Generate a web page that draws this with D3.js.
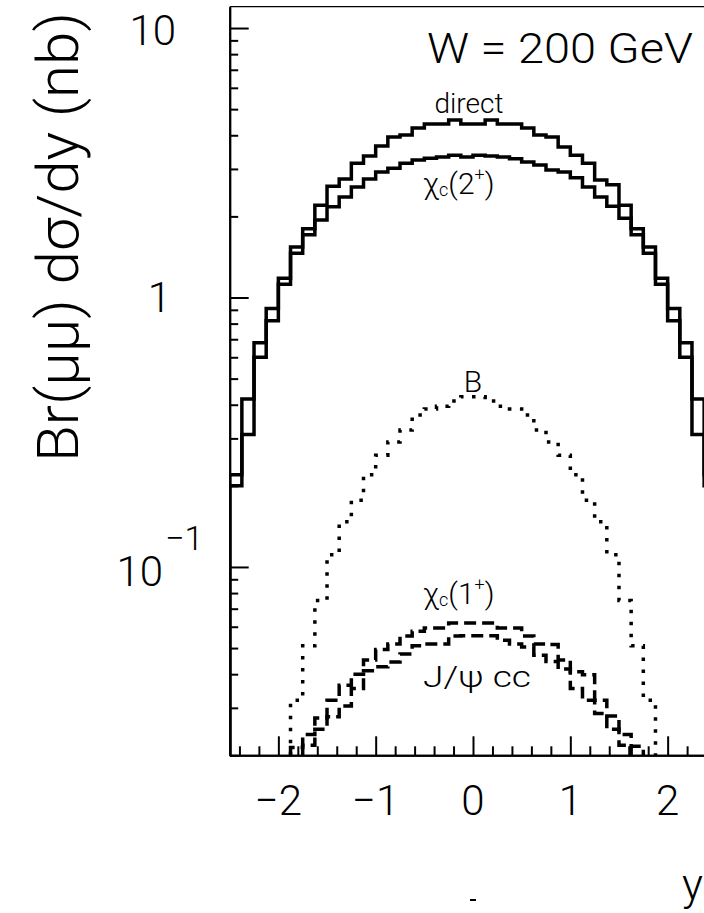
<!DOCTYPE html>
<html>
<head>
<meta charset="utf-8">
<script src="https://cdn.jsdelivr.net/npm/d3@7"></script>
<style>
    body { margin: 0; background: #fff; }
    svg text { font-family: "Roboto Light", "Lato Light", "Open Sans Light", "DejaVu Sans ExtraLight", "Lato Hairline", Roboto, sans-serif; font-weight: 300; fill: #000; }
</style>
</head>
<body>
<div id="chart"></div>
<script>
// rapidity binning: 40 bins of 0.125 from -2.5 to 2.5
const binStart = -2.5, binWidth = 0.125;

// Br(mumu) dsigma/dy in nb, one value per bin (0 = below the plot)
const direct = [0.22, 0.42, 0.68, 0.91, 1.18, 1.54, 1.80, 2.20, 2.59, 2.75, 3.15, 3.35, 3.65, 3.94, 4.01, 4.26, 4.40, 4.40, 4.56, 4.40,
                4.40, 4.56, 4.40, 4.40, 4.26, 4.01, 3.94, 3.62, 3.37, 3.15, 2.73, 2.62, 2.20, 1.80, 1.54, 1.18, 0.91, 0.68, 0.42, 0.22];
const chic2 = [0.20, 0.31, 0.60, 0.82, 1.12, 1.46, 1.71, 1.94, 2.17, 2.36, 2.57, 2.75, 2.92, 3.02, 3.15, 3.24, 3.29, 3.32, 3.37, 3.32,
               3.37, 3.35, 3.32, 3.27, 3.18, 3.10, 2.97, 2.92, 2.78, 2.57, 2.36, 2.18, 1.97, 1.71, 1.46, 1.12, 0.82, 0.60, 0.31, 0.20];
const bDecay = [0, 0, 0, 0, 0, 0.032, 0.051, 0.075, 0.111, 0.147, 0.177, 0.22, 0.26, 0.291, 0.322, 0.366, 0.386, 0.395, 0.413, 0.428,
                0.428, 0.413, 0.395, 0.386, 0.366, 0.322, 0.291, 0.26, 0.22, 0.177, 0.147, 0.111, 0.075, 0.051, 0.032, 0, 0, 0, 0, 0];
const chic1 = [0, 0, 0, 0, 0, 0.0214, 0.0239, 0.0275, 0.032, 0.0364, 0.040, 0.0452, 0.0494, 0.0518, 0.0554, 0.0577, 0.0594, 0.0594, 0.062, 0.062,
               0.062, 0.062, 0.0594, 0.0594, 0.0554, 0.0518, 0.0515, 0.0452, 0.0408, 0.0398, 0.032, 0.028, 0.0239, 0.0216, 0, 0, 0, 0, 0, 0];
const psiCC = [0, 0, 0, 0, 0, 0, 0.0218, 0.025, 0.0278, 0.0305, 0.0354, 0.0412, 0.0426, 0.0444, 0.0475, 0.051, 0.0518, 0.0518, 0.0554, 0.0555,
               0.0555, 0.0555, 0.0535, 0.0518, 0.0505, 0.047, 0.0446, 0.0418, 0.0354, 0.032, 0.0286, 0.025, 0.0218, 0, 0, 0, 0, 0, 0, 0];

const xTicks = [-2, -1, 0, 1, 2];
const xTickLabels = ["\u22122", "\u22121", "0", "1", "2"];
const xMinor = [-2.4, -2.2, -1.8, -1.6, -1.4, -1.2, -0.8, -0.6, -0.4, -0.2, 0.2, 0.4, 0.6, 0.8, 1.2, 1.4, 1.6, 1.8, 2.2, 2.4];
const yTicks = [0.1, 1, 10];
const yMinor = [0.02, 0.03, 0.04, 0.05, 0.06, 0.07, 0.08, 0.09, 0.2, 0.3, 0.4, 0.5, 0.6, 0.7, 0.8, 0.9, 2, 3, 4, 5, 6, 7, 8, 9];

const width = 704, height = 913;
const frame = {left: 229.7, right: 716.3, top: 6.7, bottom: 755.3};

const svg = d3.select("#chart")
    .append("svg")
    .attr("width", width)
    .attr("height", height);

const x = d3.scaleLinear().domain([-2.5, 2.5]).range([frame.left, frame.right]);
const y = d3.scaleLog().domain([0.02, 12]).range([frame.bottom, frame.top]);
const floor = y.domain()[0];

svg.append("clipPath").attr("id", "clip")
    .append("rect")
    .attr("x", frame.left).attr("y", frame.top)
    .attr("width", frame.right - frame.left)
    .attr("height", frame.bottom - frame.top);

// step outline of a histogram, dropping to the floor at both ends
const histPoints = (vals) => {
    const first = vals.findIndex(v => v > 0);
    const last = vals.length - 1 - vals.slice().reverse().findIndex(v => v > 0);
    const edge = i => binStart + i * binWidth;
    let pts = [[edge(first), floor]];
    for (let i = first; i <= last; i++) {
        pts.push([edge(i), vals[i]]);
        pts.push([edge(i + 1), vals[i]]);
    }
    pts.push([edge(last + 1), floor]);
    return pts;
};

const line = d3.line().x(d => x(d[0])).y(d => y(Math.max(d[1], floor)));

const series = [
    {vals: direct, dash: null},
    {vals: chic2, dash: null},
    {vals: bDecay, dash: "3.5,8.5"},
    {vals: chic1, dash: "12,6"},
    {vals: psiCC, dash: "12,6"}
];

const plot = svg.append("g").attr("clip-path", "url(#clip)");
plot.selectAll("path.hist")
    .data(series)
    .enter()
    .append("path")
    .attr("class", "hist")
    .attr("d", d => line(histPoints(d.vals)))
    .attr("fill", "none")
    .attr("stroke", "#000")
    .attr("stroke-width", 3.5)
    .attr("stroke-linejoin", "miter")
    .attr("stroke-dasharray", d => d.dash);

// frame
svg.append("line")
    .attr("x1", frame.left).attr("x2", frame.right)
    .attr("y1", frame.top).attr("y2", frame.top)
    .attr("stroke", "#000").attr("stroke-width", 1.3);

// axes with inward ticks
const styleAxis = g => {
    g.selectAll("path.domain").attr("stroke-width", 2);
    g.selectAll(".tick line").attr("stroke-width", 2);
    g.selectAll(".tick text").remove();
};
svg.append("g").attr("transform", `translate(${frame.left},0)`)
    .call(d3.axisRight(y).tickValues(yMinor).tickSize(8.5).tickSizeOuter(0))
    .call(styleAxis);
svg.append("g").attr("transform", `translate(${frame.left},0)`)
    .call(d3.axisRight(y).tickValues(yTicks).tickSize(19).tickSizeOuter(0))
    .call(styleAxis);
svg.append("g").attr("transform", `translate(0,${frame.bottom})`)
    .call(d3.axisTop(x).tickValues(xMinor).tickSize(9).tickSizeOuter(0))
    .call(styleAxis);
svg.append("g").attr("transform", `translate(0,${frame.bottom})`)
    .call(d3.axisTop(x).tickValues(xTicks).tickSize(19).tickSizeOuter(0))
    .call(styleAxis);

// x tick labels
svg.selectAll("text.xlab")
    .data(xTicks)
    .enter()
    .append("text")
    .attr("class", "xlab")
    .attr("x", d => x(d))
    .attr("y", frame.bottom + 60)
    .attr("text-anchor", "middle")
    .attr("font-size", 42)
    .text((d, i) => xTickLabels[i]);

// y tick labels
svg.append("text").attr("x", 176).attr("y", y(10) + 17)
    .attr("text-anchor", "end").attr("font-size", 42).text("10");
svg.append("text").attr("x", 171).attr("y", y(1) + 15)
    .attr("text-anchor", "end").attr("font-size", 42).text("1");
svg.append("text").attr("x", 163).attr("y", y(0.1) + 19)
    .attr("text-anchor", "end").attr("font-size", 42).text("10");
svg.append("text").attr("x", 165).attr("y", y(0.1) - 17)
    .attr("font-size", 34).text("\u22121");

// axis titles
svg.append("text")
    .attr("transform", "translate(78,237) rotate(-90)")
    .attr("text-anchor", "middle")
    .attr("font-size", 58)
    .attr("textLength", 450)
    .attr("lengthAdjust", "spacingAndGlyphs")
    .text("Br(\u03bc\u03bc) d\u03c3/dy (nb)");
svg.append("text").attr("x", 682).attr("y", 900)
    .attr("font-size", 44).text("y");
svg.append("rect").attr("x", x(0) - 3).attr("y", 899).attr("width", 6).attr("height", 2).attr("fill", "#000");

// annotations
svg.append("text").attr("x", 427).attr("y", 63)
    .attr("font-size", 42).attr("textLength", 266).attr("lengthAdjust", "spacingAndGlyphs")
    .text("W = 200 GeV");
svg.append("text").attr("x", 469).attr("y", 113)
    .attr("text-anchor", "middle").attr("font-size", 28).text("direct");

const chiLabel = (yPos, spin) => {
    let t = svg.append("text").attr("x", 423).attr("y", yPos).attr("font-size", 30);
    t.append("tspan").text("\u03c7");
    t.append("tspan").attr("font-size", 18).attr("dy", 2).text("c");
    t.append("tspan").attr("dy", -2).text("(" + spin);
    t.append("tspan").attr("font-size", 18).attr("dy", -14).text("+");
    t.append("tspan").attr("dy", 14).text(")");
};
chiLabel(194, "2");
chiLabel(604, "1");

svg.append("text").attr("x", 473).attr("y", 392)
    .attr("text-anchor", "middle").attr("font-size", 30).text("B");
svg.append("text").attr("x", 423).attr("y", 687)
    .attr("font-size", 30).attr("textLength", 108).attr("lengthAdjust", "spacingAndGlyphs")
    .text("J/\u03c8 cc");
</script>
</body>
</html>
